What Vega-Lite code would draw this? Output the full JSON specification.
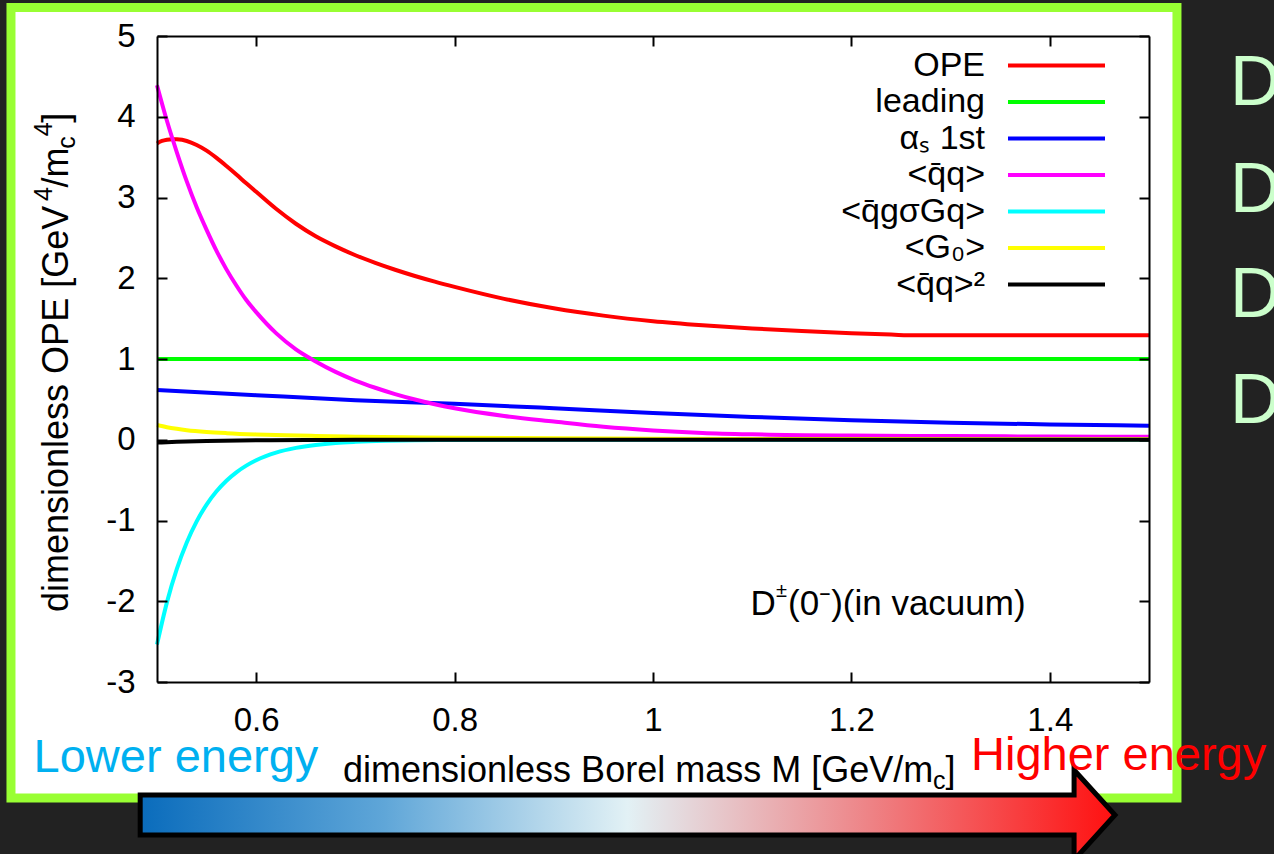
{
  "$schema": "https://vega.github.io/schema/vega-lite/v6.json",
  "width": 992,
  "height": 646,
  "autosize": {"type": "none"},
  "padding": {"left": 157, "top": 36, "right": 125, "bottom": 172},
  "background": "#222222",
  "config": {
    "view": {"stroke": null},
    "font": "Liberation Sans"
  },
  "encoding": {
    "x": {"field": "x", "type": "quantitative", "scale": {"domain": [0.5, 1.5], "nice": false, "zero": false}, "axis": null},
    "y": {"field": "y", "type": "quantitative", "scale": {"domain": [-3, 5], "nice": false, "zero": false}, "axis": null}
  },
  "resolve": {"axis": {"x": "independent", "y": "independent"}},
  "layer": [
    {
      "data": {"values": [{"x": 0.3528, "x2": 1.5282, "y": 5.3529, "y2": -4.4365}]},
      "mark": {"type": "rect", "fill": "white", "stroke": "#99ff33", "strokeWidth": 9},
      "encoding": {
        "x": {"field": "x", "type": "quantitative", "scale": {"domain": [0.5, 1.5], "nice": false, "zero": false},
          "axis": {"orient": "top", "zindex": 2, "values": [0.6, 0.8, 1, 1.2, 1.4], "labels": false, "title": null, "grid": false, "domain": true, "domainColor": "black", "domainWidth": 2, "ticks": true, "tickSize": -10, "tickColor": "black", "tickWidth": 2}},
        "y": {"field": "y", "type": "quantitative", "scale": {"domain": [-3, 5], "nice": false, "zero": false},
          "axis": {"orient": "right", "zindex": 2, "values": [-3, -2, -1, 0, 1, 2, 3, 4, 5], "labels": false, "title": null, "grid": false, "domain": true, "domainColor": "black", "domainWidth": 2, "ticks": true, "tickSize": -10, "tickColor": "black", "tickWidth": 2}},
        "x2": {"field": "x2"},
        "y2": {"field": "y2"}
      }
    },
    {
      "data": {"values": [
        {"s": "OPE", "x": 0.5, "y": 3.67}, {"s": "OPE", "x": 0.505, "y": 3.70}, {"s": "OPE", "x": 0.51, "y": 3.715}, {"s": "OPE", "x": 0.515, "y": 3.722}, {"s": "OPE", "x": 0.52, "y": 3.72}, {"s": "OPE", "x": 0.53, "y": 3.70}, {"s": "OPE", "x": 0.54, "y": 3.65}, {"s": "OPE", "x": 0.55, "y": 3.58}, {"s": "OPE", "x": 0.56, "y": 3.49}, {"s": "OPE", "x": 0.57, "y": 3.39}, {"s": "OPE", "x": 0.58, "y": 3.285}, {"s": "OPE", "x": 0.59, "y": 3.175}, {"s": "OPE", "x": 0.6, "y": 3.07}, {"s": "OPE", "x": 0.62, "y": 2.86}, {"s": "OPE", "x": 0.64, "y": 2.675}, {"s": "OPE", "x": 0.66, "y": 2.52}, {"s": "OPE", "x": 0.68, "y": 2.395}, {"s": "OPE", "x": 0.7, "y": 2.285}, {"s": "OPE", "x": 0.72, "y": 2.19}, {"s": "OPE", "x": 0.74, "y": 2.105}, {"s": "OPE", "x": 0.76, "y": 2.028}, {"s": "OPE", "x": 0.78, "y": 1.958}, {"s": "OPE", "x": 0.8, "y": 1.893}, {"s": "OPE", "x": 0.85, "y": 1.745}, {"s": "OPE", "x": 0.9, "y": 1.628}, {"s": "OPE", "x": 0.95, "y": 1.537}, {"s": "OPE", "x": 1.0, "y": 1.468}, {"s": "OPE", "x": 1.05, "y": 1.418}, {"s": "OPE", "x": 1.1, "y": 1.378}, {"s": "OPE", "x": 1.15, "y": 1.347}, {"s": "OPE", "x": 1.2, "y": 1.32}, {"s": "OPE", "x": 1.24, "y": 1.302}, {"s": "OPE", "x": 1.265, "y": 1.293}, {"s": "OPE", "x": 1.3, "y": 1.293}, {"s": "OPE", "x": 1.4, "y": 1.293}, {"s": "OPE", "x": 1.5, "y": 1.293},
        {"s": "leading", "x": 0.5, "y": 1}, {"s": "leading", "x": 1.5, "y": 1},
        {"s": "αₛ 1st", "x": 0.5, "y": 0.616}, {"s": "αₛ 1st", "x": 0.6, "y": 0.552}, {"s": "αₛ 1st", "x": 0.7, "y": 0.49}, {"s": "αₛ 1st", "x": 0.8, "y": 0.445}, {"s": "αₛ 1st", "x": 0.9, "y": 0.39}, {"s": "αₛ 1st", "x": 1.0, "y": 0.332}, {"s": "αₛ 1st", "x": 1.1, "y": 0.283}, {"s": "αₛ 1st", "x": 1.2, "y": 0.243}, {"s": "αₛ 1st", "x": 1.3, "y": 0.211}, {"s": "αₛ 1st", "x": 1.4, "y": 0.19}, {"s": "αₛ 1st", "x": 1.5, "y": 0.174},
        {"s": "<q̄q>", "x": 0.5, "y": 4.39}, {"s": "<q̄q>", "x": 0.51, "y": 3.95}, {"s": "<q̄q>", "x": 0.52, "y": 3.56}, {"s": "<q̄q>", "x": 0.53, "y": 3.20}, {"s": "<q̄q>", "x": 0.54, "y": 2.88}, {"s": "<q̄q>", "x": 0.55, "y": 2.60}, {"s": "<q̄q>", "x": 0.56, "y": 2.34}, {"s": "<q̄q>", "x": 0.57, "y": 2.11}, {"s": "<q̄q>", "x": 0.58, "y": 1.91}, {"s": "<q̄q>", "x": 0.59, "y": 1.73}, {"s": "<q̄q>", "x": 0.6, "y": 1.58}, {"s": "<q̄q>", "x": 0.62, "y": 1.32}, {"s": "<q̄q>", "x": 0.64, "y": 1.12}, {"s": "<q̄q>", "x": 0.66, "y": 0.97}, {"s": "<q̄q>", "x": 0.68, "y": 0.84}, {"s": "<q̄q>", "x": 0.7, "y": 0.733}, {"s": "<q̄q>", "x": 0.72, "y": 0.644}, {"s": "<q̄q>", "x": 0.74, "y": 0.566}, {"s": "<q̄q>", "x": 0.76, "y": 0.499}, {"s": "<q̄q>", "x": 0.78, "y": 0.44}, {"s": "<q̄q>", "x": 0.8, "y": 0.39}, {"s": "<q̄q>", "x": 0.85, "y": 0.295}, {"s": "<q̄q>", "x": 0.9, "y": 0.225}, {"s": "<q̄q>", "x": 0.95, "y": 0.16}, {"s": "<q̄q>", "x": 1.0, "y": 0.115}, {"s": "<q̄q>", "x": 1.05, "y": 0.085}, {"s": "<q̄q>", "x": 1.1, "y": 0.068}, {"s": "<q̄q>", "x": 1.2, "y": 0.052}, {"s": "<q̄q>", "x": 1.3, "y": 0.045}, {"s": "<q̄q>", "x": 1.4, "y": 0.04}, {"s": "<q̄q>", "x": 1.5, "y": 0.037},
        {"s": "<q̄gσGq>", "x": 0.5, "y": -2.535}, {"s": "<q̄gσGq>", "x": 0.51, "y": -2.014}, {"s": "<q̄gσGq>", "x": 0.52, "y": -1.6}, {"s": "<q̄gσGq>", "x": 0.53, "y": -1.272}, {"s": "<q̄gσGq>", "x": 0.54, "y": -1.01}, {"s": "<q̄gσGq>", "x": 0.55, "y": -0.803}, {"s": "<q̄gσGq>", "x": 0.56, "y": -0.638}, {"s": "<q̄gσGq>", "x": 0.57, "y": -0.507}, {"s": "<q̄gσGq>", "x": 0.58, "y": -0.403}, {"s": "<q̄gσGq>", "x": 0.59, "y": -0.32}, {"s": "<q̄gσGq>", "x": 0.6, "y": -0.254}, {"s": "<q̄gσGq>", "x": 0.62, "y": -0.16}, {"s": "<q̄gσGq>", "x": 0.64, "y": -0.101}, {"s": "<q̄gσGq>", "x": 0.66, "y": -0.064}, {"s": "<q̄gσGq>", "x": 0.68, "y": -0.04}, {"s": "<q̄gσGq>", "x": 0.7, "y": -0.026}, {"s": "<q̄gσGq>", "x": 0.73, "y": -0.013}, {"s": "<q̄gσGq>", "x": 0.76, "y": -0.006}, {"s": "<q̄gσGq>", "x": 0.8, "y": -0.003}, {"s": "<q̄gσGq>", "x": 0.9, "y": -0.0005}, {"s": "<q̄gσGq>", "x": 1.0, "y": 0}, {"s": "<q̄gσGq>", "x": 1.5, "y": 0},
        {"s": "<G₀>", "x": 0.5, "y": 0.183}, {"s": "<G₀>", "x": 0.51, "y": 0.155}, {"s": "<G₀>", "x": 0.52, "y": 0.135}, {"s": "<G₀>", "x": 0.53, "y": 0.119}, {"s": "<G₀>", "x": 0.55, "y": 0.097}, {"s": "<G₀>", "x": 0.57, "y": 0.082}, {"s": "<G₀>", "x": 0.6, "y": 0.066}, {"s": "<G₀>", "x": 0.63, "y": 0.055}, {"s": "<G₀>", "x": 0.66, "y": 0.047}, {"s": "<G₀>", "x": 0.7, "y": 0.038}, {"s": "<G₀>", "x": 0.75, "y": 0.03}, {"s": "<G₀>", "x": 0.8, "y": 0.025}, {"s": "<G₀>", "x": 0.9, "y": 0.018}, {"s": "<G₀>", "x": 1.0, "y": 0.013}, {"s": "<G₀>", "x": 1.2, "y": 0.008}, {"s": "<G₀>", "x": 1.5, "y": 0.005},
        {"s": "<q̄q>²", "x": 0.5, "y": -0.035}, {"s": "<q̄q>²", "x": 0.52, "y": -0.025}, {"s": "<q̄q>²", "x": 0.55, "y": -0.015}, {"s": "<q̄q>²", "x": 0.6, "y": -0.007}, {"s": "<q̄q>²", "x": 0.65, "y": -0.003}, {"s": "<q̄q>²", "x": 0.7, "y": -0.001}, {"s": "<q̄q>²", "x": 0.8, "y": 0}, {"s": "<q̄q>²", "x": 1.0, "y": 0}, {"s": "<q̄q>²", "x": 1.5, "y": 0}
      ]},
      "mark": {"type": "line", "strokeWidth": 4, "interpolate": "monotone"},
      "encoding": {
        "x": {"field": "x", "type": "quantitative", "scale": {"domain": [0.5, 1.5], "nice": false, "zero": false},
          "axis": {"orient": "bottom", "zindex": 2, "values": [0.6, 0.8, 1, 1.2, 1.4], "labelExpr": "'' + datum.value", "title": null, "grid": false, "domain": true, "domainColor": "black", "domainWidth": 2, "ticks": true, "tickSize": -10, "tickColor": "black", "tickWidth": 2, "labelFont": "Liberation Sans", "labelFontSize": 33, "labelColor": "black", "labelPadding": 32, "labelFlush": false, "labelOverlap": false}},
        "y": {"field": "y", "type": "quantitative", "scale": {"domain": [-3, 5], "nice": false, "zero": false},
          "axis": {"orient": "left", "zindex": 2, "values": [-3, -2, -1, 0, 1, 2, 3, 4, 5], "labelExpr": "'' + datum.value", "title": null, "grid": false, "domain": true, "domainColor": "black", "domainWidth": 2, "ticks": true, "tickSize": -10, "tickColor": "black", "tickWidth": 2, "labelFont": "Liberation Sans", "labelFontSize": 33, "labelColor": "black", "labelPadding": 32, "labelFlush": false, "labelOverlap": false}},
        "color": {"field": "s", "type": "nominal",
          "scale": {"domain": ["OPE", "leading", "αₛ 1st", "<q̄q>", "<q̄gσGq>", "<G₀>", "<q̄q>²"], "range": ["#ff0000", "#00ff00", "#0000ff", "#ff00ff", "#00ffff", "#ffff00", "#000000"]},
          "legend": {"orient": "none", "legendX": 882.5, "legendY": 12.5, "direction": "vertical", "title": null, "symbolType": "M -4.85,0 L 4.85,0", "symbolSize": 400, "symbolStrokeWidth": 4, "labelFont": "Liberation Sans", "labelFontSize": 34, "labelColor": "black", "labelAlign": "right", "labelOffset": -88.5, "labelLimit": 400, "rowPadding": 2.5, "padding": 0, "offset": 0}}
      }
    },
    {
      "data": {"values": [{"x": 0.9758, "y": -4.6471}]},
      "mark": {"type": "point", "filled": true, "opacity": 1, "size": 8836,
        "shape": "M -10.4,-0.4255 L 9.47,-0.4255 L 9.47,-0.957 L 10.34,0 L 9.47,0.957 L 9.47,0.4255 L -10.4,0.4255 Z",
        "fill": {"gradient": "linear", "x1": 0, "y1": 0, "x2": 1, "y2": 0, "stops": [{"offset": 0, "color": "#0a6cbc"}, {"offset": 0.25, "color": "#5fa6d8"}, {"offset": 0.5, "color": "#e2f1f5"}, {"offset": 0.75, "color": "#ee8285"}, {"offset": 1, "color": "#ff1010"}]},
        "stroke": "black", "strokeWidth": 5, "strokeJoin": "miter"}
    },
    {
      "data": {"values": [{"label": "Lower energy", "x": 0.3756, "y": -4.1084}]},
      "mark": {"type": "text", "align": "left", "baseline": "alphabetic", "font": "Liberation Sans", "fontSize": 47, "color": "#00b0f0"},
      "encoding": {"text": {"field": "label"}}
    },
    {
      "data": {"values": [{"label": "Higher energy", "x": 1.3206, "y": -4.0898}]},
      "mark": {"type": "text", "align": "left", "baseline": "alphabetic", "font": "Liberation Sans", "fontSize": 47, "color": "#ff0000"},
      "encoding": {"text": {"field": "label"}}
    },
    {
      "data": {"values": [{"label": "D", "x": 1.5817, "y": 4.1455}, {"label": "D", "x": 1.5817, "y": 2.8204}, {"label": "D", "x": 1.5817, "y": 1.5201}, {"label": "D", "x": 1.5817, "y": 0.2074}]},
      "mark": {"type": "text", "align": "left", "baseline": "alphabetic", "font": "Liberation Sans", "fontSize": 70, "color": "#ccffcc"},
      "encoding": {"text": {"field": "label"}}
    },
    {
      "data": {"values": [{"label": "D", "x": 1.0983, "y": -2.1703}, {"label": "(0⁻)(in vacuum)", "x": 1.1361, "y": -2.1703}]},
      "mark": {"type": "text", "align": "left", "baseline": "alphabetic", "font": "Liberation Sans", "fontSize": 35, "color": "black"},
      "encoding": {"text": {"field": "label"}}
    },
    {
      "data": {"values": [{"label": "±", "x": 1.124, "y": -1.9474}]},
      "mark": {"type": "text", "align": "left", "baseline": "alphabetic", "font": "Liberation Sans", "fontSize": 20, "color": "black"},
      "encoding": {"text": {"field": "label"}}
    },
    {
      "data": {"values": [{"label": "dimensionless Borel mass M [GeV/m", "x": 0.6875, "y": -4.2384}, {"label": "]", "x": 1.2949, "y": -4.2384}]},
      "mark": {"type": "text", "align": "left", "baseline": "alphabetic", "font": "Liberation Sans", "fontSize": 36, "color": "black"},
      "encoding": {"text": {"field": "label"}}
    },
    {
      "data": {"values": [{"label": "c", "x": 1.2823, "y": -4.3251}]},
      "mark": {"type": "text", "align": "left", "baseline": "alphabetic", "font": "Liberation Sans", "fontSize": 25, "color": "black"},
      "encoding": {"text": {"field": "label"}}
    },
    {
      "data": {"values": [{"label": "dimensionless OPE [GeV", "x": 0.4103, "y": -2.1331}, {"label": "/m", "x": 0.4103, "y": 3.1238}, {"label": "]", "x": 0.4103, "y": 3.9263}]},
      "mark": {"type": "text", "align": "left", "baseline": "alphabetic", "angle": -90, "font": "Liberation Sans", "fontSize": 36, "color": "black"},
      "encoding": {"text": {"field": "label"}}
    },
    {
      "data": {"values": [{"label": "4", "x": 0.3942, "y": 2.9567}, {"label": "c", "x": 0.4173, "y": 3.6043}, {"label": "4", "x": 0.3942, "y": 3.7591}]},
      "mark": {"type": "text", "align": "left", "baseline": "alphabetic", "angle": -90, "font": "Liberation Sans", "fontSize": 25, "color": "black"},
      "encoding": {"text": {"field": "label"}}
    }
  ]
}
